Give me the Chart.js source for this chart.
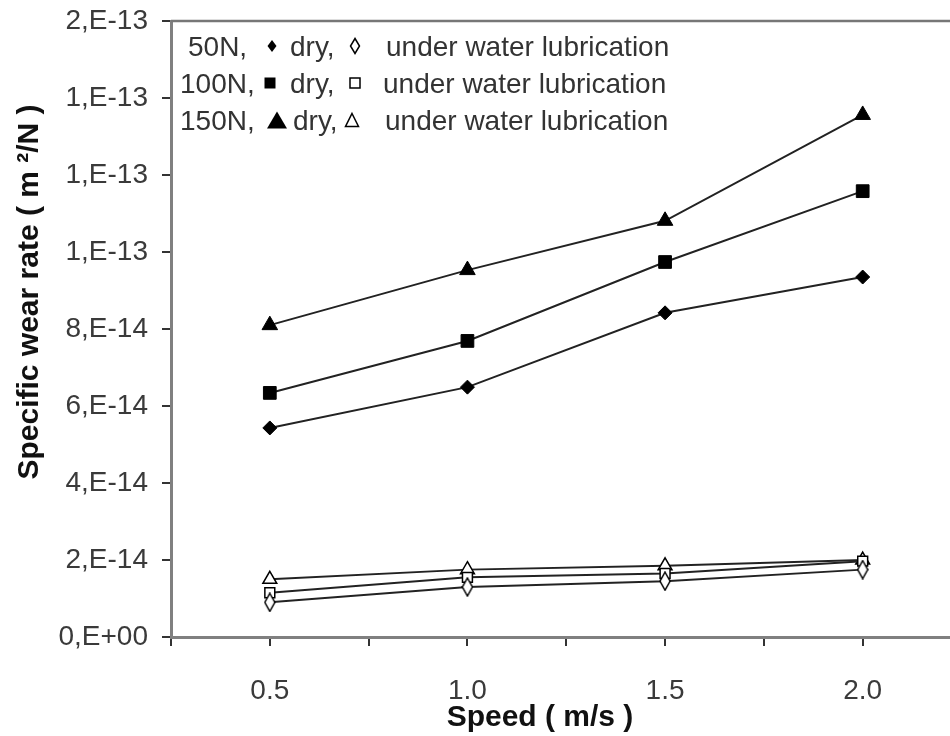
<!DOCTYPE html>
<html>
<head>
<meta charset="utf-8">
<script src="https://cdn.jsdelivr.net/npm/chart.js@4.4.1/dist/chart.umd.min.js"></script>
<style>
    html, body { margin: 0; padding: 0; background: #fff; overflow: hidden; }
    #wrap { width: 950px; height: 736px; overflow: hidden; }
    #wearChart { display: block; width: 972px; height: 736px; }
</style>
</head>
<body>
<div id="wrap"><canvas id="wearChart" width="972" height="736"></canvas></div>
<script>
// speed (m/s) and specific wear rate (m2/N)
const speeds = [0.5, 1.0, 1.5, 2.0];
const dry50 = [5.43e-14, 6.49e-14, 8.42e-14, 9.35e-14];
const dry100 = [6.34e-14, 7.69e-14, 9.74e-14, 11.58e-14];
const dry150 = [8.10e-14, 9.53e-14, 10.81e-14, 13.56e-14];
const wet50 = [0.90e-14, 1.30e-14, 1.45e-14, 1.75e-14];
const wet100 = [1.15e-14, 1.55e-14, 1.65e-14, 1.97e-14];
const wet150 = [1.50e-14, 1.75e-14, 1.85e-14, 2.00e-14];

const yMax = 1.6e-13;
const yStep = 2e-14;

const FONT = "'Liberation Sans', Arial, sans-serif";

// Excel style "0,E+00" labels
function sciLabel(v) {
    if (Math.abs(v) < 1e-20) return '0,E+00';
    let e = Math.floor(Math.log10(v));
    let m = Math.round(v / Math.pow(10, e));
    if (m >= 10) { m = 1; e += 1; }
    return m + ',E' + (e < 0 ? '-' : '+') + String(Math.abs(e)).padStart(2, '0');
}

function toPoints(values) {
    return speeds.map((s, i) => ({ x: s, y: values[i] }));
}

// tall narrow open diamond like the original
function makeDiamond(w, h) {
    const c = document.createElement('canvas');
    c.width = w + 2;
    c.height = h + 2;
    const g = c.getContext('2d');
    g.beginPath();
    g.moveTo(c.width / 2, 1);
    g.lineTo(c.width - 1, c.height / 2);
    g.lineTo(c.width / 2, c.height - 1);
    g.lineTo(1, c.height / 2);
    g.closePath();
    g.fillStyle = '#fff';
    g.fill();
    g.lineWidth = 1.5;
    g.strokeStyle = '#000';
    g.stroke();
    return c;
}
const openDiamond = makeDiamond(10, 18);

function series(values, style, radius, filled) {
    return {
        data: toPoints(values),
        borderColor: '#222',
        borderWidth: 2,
        pointStyle: style,
        pointRadius: radius,
        pointHoverRadius: radius,
        pointBackgroundColor: filled ? '#000' : '#fff',
        pointBorderColor: '#000',
        pointBorderWidth: filled ? 1 : 1.5,
        tension: 0
    };
}

function drawMarker(ctx, shape, x, y, w, h, filled) {
    ctx.beginPath();
    if (shape === 'diamond') {
        ctx.moveTo(x, y - h / 2);
        ctx.lineTo(x + w / 2, y);
        ctx.lineTo(x, y + h / 2);
        ctx.lineTo(x - w / 2, y);
    } else if (shape === 'square') {
        ctx.rect(x - w / 2, y - h / 2, w, h);
    } else {
        ctx.moveTo(x, y - h / 2);
        ctx.lineTo(x + w / 2, y + h / 2);
        ctx.lineTo(x - w / 2, y + h / 2);
    }
    ctx.closePath();
    if (filled) {
        ctx.fillStyle = '#000';
        ctx.fill();
    } else {
        ctx.fillStyle = '#fff';
        ctx.fill();
        ctx.lineWidth = 1.5;
        ctx.strokeStyle = '#000';
        ctx.stroke();
    }
}

const legendRows = [
    { load: '50N,', loadX: 188, y: 56, shape: 'diamond', dryMark: [272, 9, 12], dryX: 290, wetMark: [355, 9, 15], wetX: 386 },
    { load: '100N,', loadX: 180, y: 93, shape: 'square', dryMark: [270, 11, 11], dryX: 290, wetMark: [355, 10, 10], wetX: 383 },
    { load: '150N,', loadX: 180, y: 130, shape: 'triangle', dryMark: [277, 20, 17], dryX: 293, wetMark: [352, 13, 13], wetX: 385 }
];

const decorPlugin = {
    id: 'decor',
    afterDraw(chart) {
        const ctx = chart.ctx;
        const area = chart.chartArea;
        ctx.save();

        // top frame line
        ctx.strokeStyle = '#777';
        ctx.lineWidth = 2.5;
        ctx.beginPath();
        ctx.moveTo(area.left, area.top);
        ctx.lineTo(area.right, area.top);
        ctx.stroke();

        // legend text block
        ctx.font = '28px ' + FONT;
        ctx.textBaseline = 'alphabetic';
        ctx.textAlign = 'left';
        legendRows.forEach(row => {
            ctx.fillStyle = '#333';
            ctx.fillText(row.load, row.loadX, row.y);
            ctx.fillText('dry,', row.dryX, row.y);
            ctx.fillText('under water lubrication', row.wetX, row.y);
            const my = row.y - 10;
            drawMarker(ctx, row.shape, row.dryMark[0], my, row.dryMark[1], row.dryMark[2], true);
            drawMarker(ctx, row.shape, row.wetMark[0], my, row.wetMark[1], row.wetMark[2], false);
        });

        // axis titles
        ctx.fillStyle = '#111';
        ctx.font = 'bold 30px ' + FONT;
        ctx.textAlign = 'center';
        ctx.textBaseline = 'middle';
        ctx.fillText('Speed ( m/s )', 540, 718);

        ctx.translate(30, 292);
        ctx.rotate(-Math.PI / 2);
        ctx.fillText('Specific wear rate ( m ²/N )', 0, 0);
        ctx.restore();
    }
};

// keep the plot box where the original has it
function noOverflow(scale) {
    scale.paddingTop = 0;
    scale.paddingBottom = 0;
    scale.paddingLeft = 0;
    scale.paddingRight = 0;
}

const ctx = document.getElementById('wearChart').getContext('2d');
const chart = new Chart(ctx, {
    type: 'line',
    data: {
        datasets: [
            series(dry50, 'rectRot', 7, true),
            series(dry100, 'rect', 9, true),
            series(dry150, 'triangle', 9, true),
            series(wet50, openDiamond, 9, false),
            series(wet100, 'rect', 7, false),
            series(wet150, 'triangle', 8, false)
        ]
    },
    options: {
        responsive: false,
        animation: false,
        layout: { padding: { top: 21, right: 5, left: 0, bottom: 0 } },
        plugins: {
            legend: { display: false },
            tooltip: { enabled: false }
        },
        scales: {
            x: {
                type: 'linear',
                min: 0.25,
                max: 2.25,
                afterFit(scale) { scale.height = 99; noOverflow(scale); },
                border: { display: true, color: '#808080', width: 3 },
                grid: { drawOnChartArea: false, drawTicks: true, tickLength: 9, tickColor: '#333', lineWidth: 2 },
                ticks: {
                    stepSize: 0.25,
                    autoSkip: false,
                    maxRotation: 0,
                    padding: 28,
                    color: '#3a3a3a',
                    font: { family: FONT, size: 28 },
                    callback: v => (Math.abs(v * 2 - Math.round(v * 2)) < 1e-6 ? v.toFixed(1) : '')
                }
            },
            y: {
                min: 0,
                max: yMax,
                afterFit(scale) { scale.width = 171; noOverflow(scale); },
                border: { display: true, color: '#808080', width: 3 },
                grid: { drawOnChartArea: false, drawTicks: true, tickLength: 9, tickColor: '#333', lineWidth: 2 },
                ticks: {
                    stepSize: yStep,
                    padding: 14,
                    color: '#3a3a3a',
                    font: { family: FONT, size: 28 },
                    callback: v => sciLabel(v)
                }
            }
        }
    },
    plugins: [decorPlugin]
});
</script>
</body>
</html>
